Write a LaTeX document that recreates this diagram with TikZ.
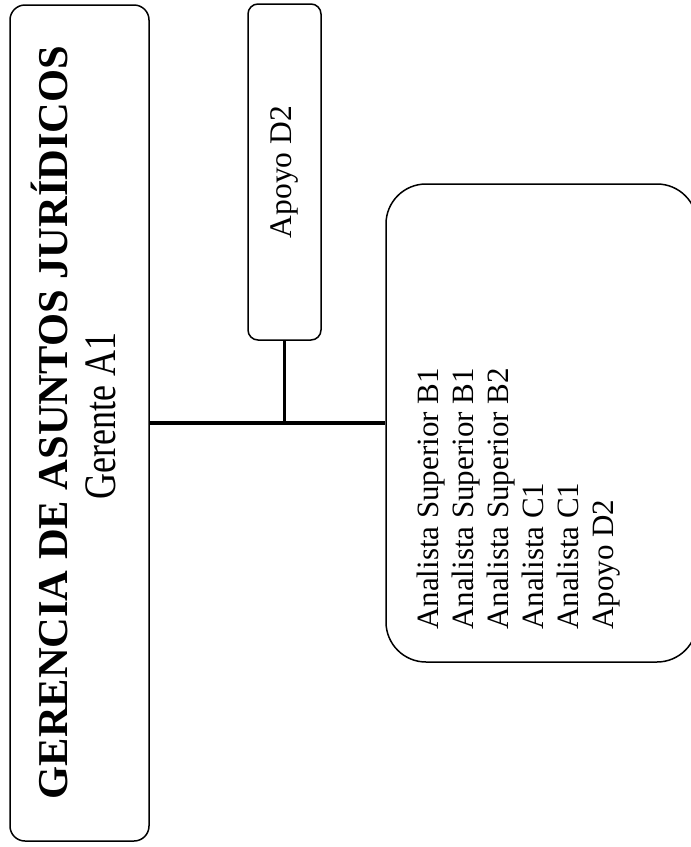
\documentclass[tikz,border=0pt]{standalone}
\usepackage{fontspec}
\setmainfont{Liberation Serif}
\usepackage{graphicx}
\usetikzlibrary{positioning}

\begin{document}
\begin{tikzpicture}[x=1pt, y=-1pt,
  caja/.style={draw, line width=1.5pt, rotate=90, inner sep=0pt},
  texto/.style={rotate=90, inner sep=0pt, font=\fontsize{31}{35}\selectfont},
  linea/.style={line width=3.5pt}]
\useasboundingbox (0,0) rectangle (691,847);
% gerencia
\node[caja, rounded corners=15pt, minimum width=836pt, minimum height=139pt] (gerencia) at (79.5,423) {};
\node[texto, anchor=base, font=\fontsize{42.5}{48}\selectfont\bfseries] (titulo) at (67,422.5)
  {GERENCIA DE ASUNTOS JURÍDICOS};
\node[texto, anchor=base, font=\fontsize{45}{48}\selectfont] (cargo) at (115,416)
  {\scalebox{0.8}[1]{Gerente A1}};
% apoyo
\node[caja, rounded corners=10pt, minimum width=336pt, minimum height=73pt,
  font=\fontsize{31.5}{35}\selectfont] (apoyo) at (284.5,172) {Apoyo D2};
% analistas
\node[caja, rounded corners=40pt, minimum width=478pt, minimum height=311pt] (analistas) at (541.5,423) {};
\node[texto, anchor=north west, align=left] (lista) at (417,630)
  {Analista Superior B1\\Analista Superior B1\\Analista Superior B2\\Analista C1\\Analista C1\\Apoyo D2};
\draw[linea] (gerencia.south) -- (analistas.north);
\draw[linea] (apoyo.west) -- (apoyo.west |- gerencia.south);
\end{tikzpicture}
\end{document}
